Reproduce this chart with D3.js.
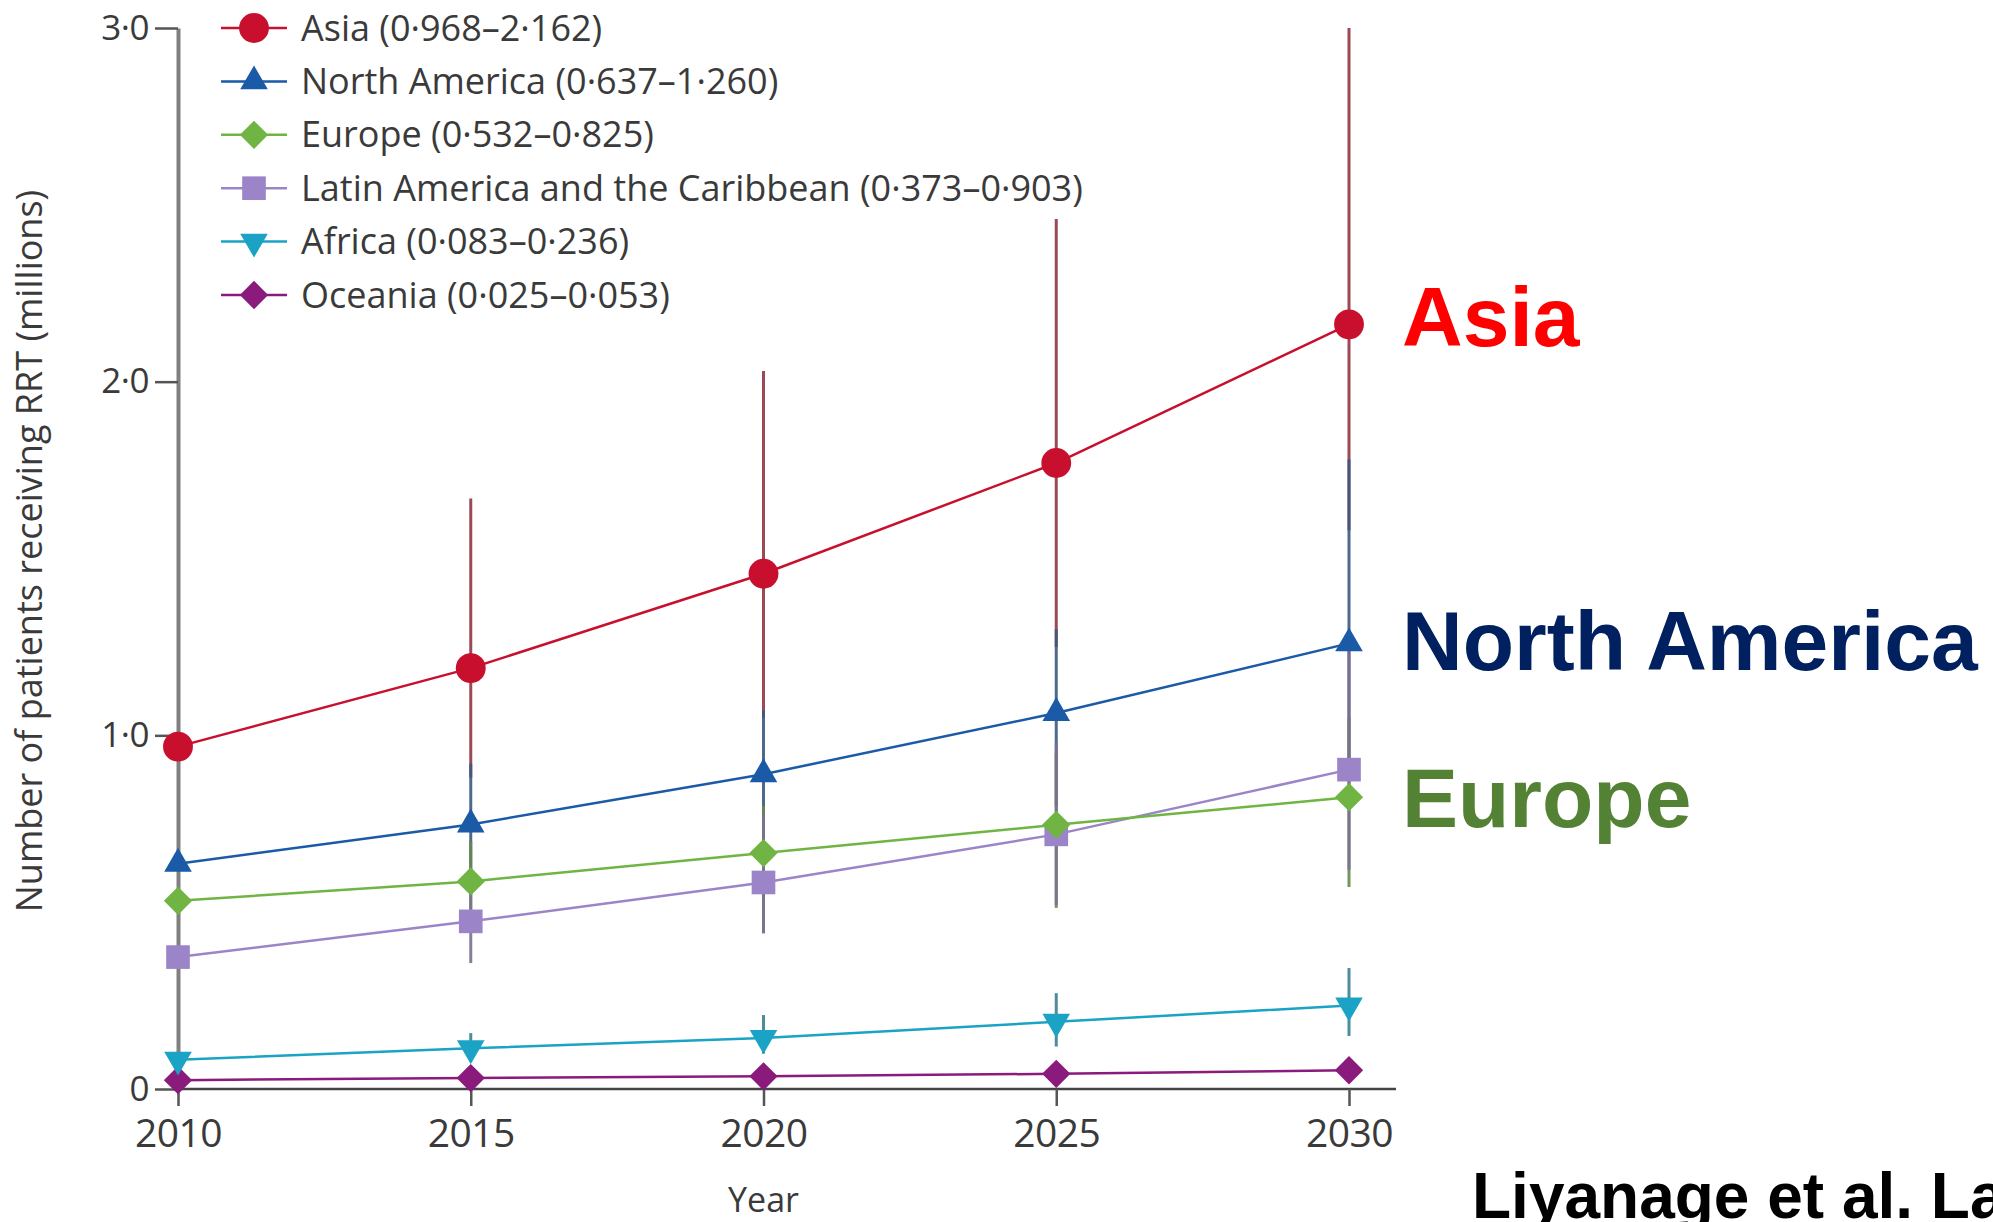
<!DOCTYPE html>
<html>
<head>
<meta charset="utf-8">
<script src="https://cdn.jsdelivr.net/npm/d3@7"></script>
<style>
  html, body { margin: 0; padding: 0; background: #ffffff; overflow: hidden; }
  svg { display: block; }
</style>
</head>
<body>
<svg id="chart" width="1993" height="1222"></svg>
<script>
// Projected number of patients receiving RRT (millions), by region
const years = [2010, 2015, 2020, 2025, 2030];
const yTicks = [0, 1, 2, 3];

const regionNames = ["Asia", "North America", "Europe", "Latin America and the Caribbean", "Africa", "Oceania"];
const legendRanges = ["(0·968–2·162)", "(0·637–1·260)", "(0·532–0·825)", "(0·373–0·903)", "(0·083–0·236)", "(0·025–0·053)"];

const asia         = [0.968, 1.19, 1.457, 1.77, 2.162];
const northAmerica = [0.637, 0.748, 0.89, 1.063, 1.260];
const europe       = [0.532, 0.587, 0.667, 0.747, 0.825];
const latinAmerica = [0.373, 0.474, 0.584, 0.72, 0.903];
const africa       = [0.083, 0.115, 0.144, 0.19, 0.236];
const oceania      = [0.025, 0.031, 0.036, 0.043, 0.053];

// Uncertainty intervals (2010 is the observed baseline)
const asiaLow  = [null, 0.88, 1.05, 1.25, 1.58];
const asiaHigh = [null, 1.67, 2.03, 2.46, 3.0];
const naLow    = [null, 0.62, 0.70, 0.80, 0.90];
const naHigh   = [null, 0.92, 1.07, 1.30, 1.78];
const euLow    = [null, 0.50, 0.441, 0.512, 0.571];
const euHigh   = [null, 0.70, 0.80, 0.95, 1.05];
const laLow    = [null, 0.356, 0.44, 0.52, 0.62];
const laHigh   = [null, 0.62, 0.78, 0.98, 1.25];
const afLow    = [null, 0.08, 0.10, 0.12, 0.15];
const afHigh   = [null, 0.158, 0.209, 0.271, 0.342];
const ocLow    = [null, 0.02, 0.025, 0.03, 0.035];
const ocHigh   = [null, 0.04, 0.05, 0.06, 0.075];

const calloutNames = ["Asia", "North America", "Europe"];
const citation = "Liyanage et al. Lancet 2015";

const seriesColors = ["#c8102e", "#1a5aa6", "#70b544", "#9b85c8", "#1aa3c4", "#8a1a7c"];
const symbolKinds = ["circle", "triangle", "diamond", "square", "triangleDown", "diamond"];

const series = regionNames.map((name, i) => ({
  name,
  range: legendRanges[i],
  values: [asia, northAmerica, europe, latinAmerica, africa, oceania][i],
  low: [asiaLow, naLow, euLow, laLow, afLow, ocLow][i],
  high: [asiaHigh, naHigh, euHigh, laHigh, afHigh, ocHigh][i],
  color: seriesColors[i],
  kind: symbolKinds[i]
}));

const svg = d3.select("#chart");
const labelFont = "'Open Sans', 'Noto Sans', sans-serif";

const x = d3.scaleLinear().domain([2010, 2030]).range([178, 1349]);
const y = d3.scaleLinear().domain([0, 3]).range([1089, 28]);

// Marker shapes
function markerPath(kind) {
  switch (kind) {
    case "circle": return d3.symbol(d3.symbolCircle, 700)();
    case "triangle": return d3.symbol(d3.symbolTriangle, 330)();
    case "triangleDown": return d3.symbol(d3.symbolTriangle, 330)();
    case "square": return d3.symbol(d3.symbolSquare, 560)();
    case "diamond": return d3.symbol(d3.symbolSquare, 400)();
  }
}
function markerRotation(kind) {
  if (kind === "triangleDown") return 180;
  if (kind === "diamond") return 45;
  return 0;
}

// Axes
const xAxis = d3.axisBottom(x).tickValues(years).tickFormat(d3.format("d")).tickSize(17).tickSizeOuter(0).tickPadding(13);
const yAxis = d3.axisLeft(y).tickValues(yTicks)
  .tickFormat(d => d === 0 ? "0" : d.toFixed(1).replace(".", "·"))
  .tickSize(23).tickSizeOuter(0).tickPadding(6);

const gy = svg.append("g").attr("transform", `translate(${x(2010)},0)`).call(yAxis);
gy.select(".domain").attr("stroke", "#808080").attr("stroke-width", 4);
gy.selectAll(".tick line").attr("stroke", "#555").attr("stroke-width", 2.5);
gy.selectAll(".tick text").attr("font-family", labelFont).attr("font-size", 35).attr("fill", "#3a3a3a").attr("letter-spacing", -0.5);

const gx = svg.append("g").attr("transform", `translate(0,${y(0)})`).call(xAxis);
gx.select(".domain").attr("d", `M${x(2010)},0H1396`).attr("stroke", "#444").attr("stroke-width", 2.5);
gx.selectAll(".tick line").attr("stroke", "#555").attr("stroke-width", 2.5);
gx.selectAll(".tick text").attr("font-family", labelFont).attr("font-size", 39).attr("fill", "#3a3a3a").attr("letter-spacing", -0.5);

// Axis titles
svg.append("text")
  .attr("transform", `translate(42,${(184 + 918) / 2}) rotate(-90)`)
  .attr("text-anchor", "middle")
  .attr("font-family", labelFont).attr("font-size", 36).attr("fill", "#3a3a3a")
  .text("Number of patients receiving RRT (millions)");

svg.append("text")
  .attr("x", x(2020)).attr("y", 1212)
  .attr("text-anchor", "middle")
  .attr("font-family", labelFont).attr("font-size", 34).attr("fill", "#3a3a3a")
  .text("Year");

// Uncertainty bars
const barLayer = svg.append("g");
series.forEach(s => {
  const barColor = d3.interpolateRgb(s.color, "#5a5a5a")(0.5);
  years.forEach((yr, j) => {
    if (s.low[j] == null) return;
    barLayer.append("line")
      .attr("x1", x(yr)).attr("x2", x(yr))
      .attr("y1", y(s.low[j])).attr("y2", y(s.high[j]))
      .attr("stroke", barColor).attr("stroke-width", 3).attr("stroke-opacity", 0.9);
  });
});

// Series lines
const line = d3.line().x((d, j) => x(years[j])).y(d => y(d));
const lineLayer = svg.append("g");
series.slice().reverse().forEach(s => {
  lineLayer.append("path")
    .attr("d", line(s.values))
    .attr("fill", "none").attr("stroke", s.color).attr("stroke-width", 2.5);
});

// Markers
const markerLayer = svg.append("g");
series.slice().reverse().forEach(s => {
  s.values.forEach((v, j) => {
    markerLayer.append("path")
      .attr("d", markerPath(s.kind))
      .attr("transform", `translate(${x(years[j])},${y(v)}) rotate(${markerRotation(s.kind)})`)
      .attr("fill", s.color);
  });
});

// Legend
const legend = svg.append("g");
series.forEach((s, i) => {
  const ly = 28 + i * 53.4;
  legend.append("line").attr("x1", 221).attr("x2", 287).attr("y1", ly).attr("y2", ly)
    .attr("stroke", s.color).attr("stroke-width", 2.5);
  legend.append("path").attr("d", markerPath(s.kind))
    .attr("transform", `translate(254,${ly}) rotate(${markerRotation(s.kind)})`)
    .attr("fill", s.color);
  legend.append("text").attr("x", 301).attr("y", ly).attr("dy", "0.35em")
    .attr("font-family", labelFont).attr("font-size", 36).attr("fill", "#3a3a3a")
    .text(`${s.name} ${s.range}`);
});

// Callout labels beside the 2030 values
const calloutColors = ["#ff0000", "#002060", "#548235"];
const calloutBaselines = [346, 670, 827];
calloutNames.forEach((name, i) => {
  svg.append("text").attr("x", 1402).attr("y", calloutBaselines[i])
    .attr("font-family", "'Liberation Sans', Arial, sans-serif").attr("font-weight", "bold")
    .attr("font-size", 84).attr("fill", calloutColors[i])
    .text(name);
});

svg.append("text").attr("x", 1472).attr("y", 1218)
  .attr("font-family", "'Liberation Sans', Arial, sans-serif").attr("font-weight", "bold")
  .attr("font-size", 64).attr("fill", "#000")
  .text(citation);
</script>
</body>
</html>
